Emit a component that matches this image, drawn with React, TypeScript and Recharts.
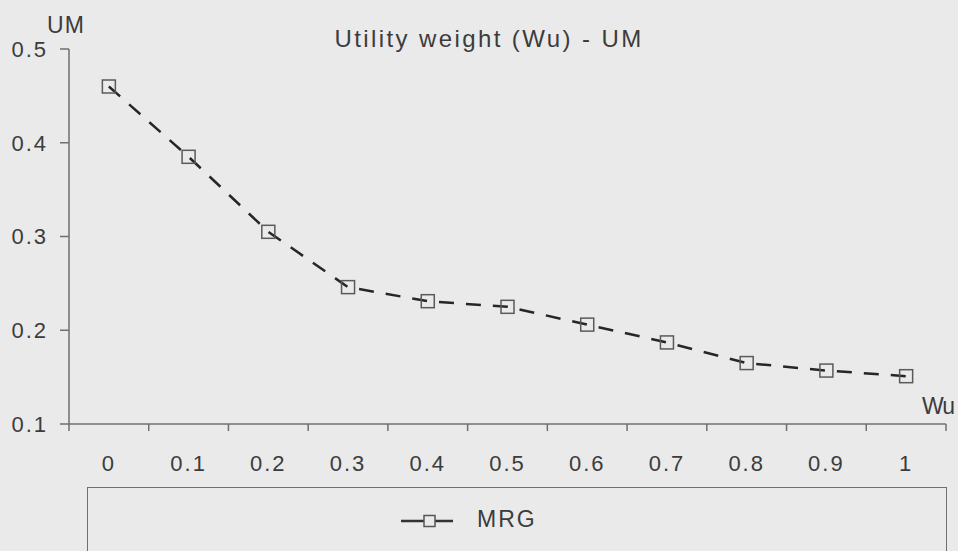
import { LineChart, Line, XAxis, YAxis, Legend } from 'recharts';

// Utility weight Wu vs UM, MRG series
const wuValues = [0, 0.1, 0.2, 0.3, 0.4, 0.5, 0.6, 0.7, 0.8, 0.9, 1];
const mrgValues = [0.46, 0.385, 0.305, 0.246, 0.231, 0.225, 0.206, 0.187, 0.165, 0.157, 0.151];
const yTicks = [0.1, 0.2, 0.3, 0.4, 0.5];

const data = wuValues.map((wu, i) => ({ wu, mrg: mrgValues[i] }));

const W = 958;
const H = 551;
const MARGIN = { top: 49, right: 12, bottom: 97, left: 0 };
const Y_AXIS_W = 69;
const X_AXIS_H = 30;
const PLOT_W = W - MARGIN.left - MARGIN.right - Y_AXIS_W;
const PLOT_BOTTOM = H - MARGIN.bottom - X_AXIS_H;
const STEP = PLOT_W / wuValues.length;

const BG = '#eaeaea';
const AXIS = '#6f6f6f';
const TEXT = '#3c3c3c';
const FONT = '"Liberation Sans", Arial, sans-serif';

// category-style ticks: marks between slots, labels centred in each slot
const XTick = (props: any) => {
  const { x, index, payload } = props;
  const last = index === wuValues.length - 1;
  return (
    <g>
      <line x1={x - STEP / 2} x2={x - STEP / 2} y1={PLOT_BOTTOM} y2={PLOT_BOTTOM + 7} stroke={AXIS} strokeWidth={1.5} />
      {last && (
        <line x1={x + STEP / 2} x2={x + STEP / 2} y1={PLOT_BOTTOM} y2={PLOT_BOTTOM + 7} stroke={AXIS} strokeWidth={1.5} />
      )}
      <text
        x={x}
        y={PLOT_BOTTOM + 39}
        textAnchor="middle"
        dominantBaseline="central"
        fill={TEXT}
        fontSize={22}
        letterSpacing={2}
        fontFamily={FONT}
      >
        {String(payload.value)}
      </text>
    </g>
  );
};

// axis titles: "UM" over the top of the y axis, "Wu" above the right end of the x axis
const YTitle = (props: any) => {
  const { x, y, width } = props.viewBox;
  return (
    <text x={x + width - 3} y={y - 24} textAnchor="middle" dominantBaseline="central" fill={TEXT} fontSize={23} letterSpacing={1} fontFamily={FONT}>
      UM
    </text>
  );
};

const XTitle = (props: any) => {
  const { x, y, width } = props.viewBox;
  return (
    <text x={x + width + 8} y={y - 18} textAnchor="end" dominantBaseline="central" fill={TEXT} fontSize={23} letterSpacing={-1} fontFamily={FONT}>
      Wu
    </text>
  );
};

const SquareDot = (props: any) => {
  const { cx, cy, index } = props;
  if (cx == null || cy == null) return null;
  return (
    <rect key={index} x={cx - 6.5} y={cy - 6.5} width={13} height={13} fill="none" stroke="#5a5a5a" strokeWidth={1.5} />
  );
};

const LegendBox = () => (
  <div
    style={{
      position: 'relative',
      width: 860,
      height: 80,
      border: `1.5px solid ${AXIS}`,
      boxSizing: 'border-box',
      fontFamily: FONT,
    }}
  >
    <svg width={56} height={20} style={{ position: 'absolute', left: 311, top: 23 }}>
      <line x1={2} x2={54} y1={10} y2={10} stroke="#333" strokeWidth={2.5} />
      <rect x={25} y={4.5} width={11} height={11} fill={BG} stroke="#555" strokeWidth={1.5} />
    </svg>
    <span
      style={{
        position: 'absolute',
        left: 389,
        top: 18,
        fontSize: 23,
        letterSpacing: 2,
        color: TEXT,
      }}
    >
      MRG
    </span>
  </div>
);

export default function App() {
  return (
    <div style={{ position: 'absolute', left: 0, top: 0, width: W, height: H, background: BG, overflow: 'hidden' }}>
      <LineChart width={W} height={H} data={data} margin={MARGIN}>
        <XAxis
          dataKey="wu"
          type="number"
          domain={[-0.05, 1.05]}
          ticks={wuValues}
          height={X_AXIS_H}
          tickLine={false}
          axisLine={{ stroke: AXIS, strokeWidth: 1.5 }}
          tick={<XTick />}
          interval={0}
          allowDataOverflow
          label={<XTitle />}
        />
        <YAxis
          type="number"
          domain={[0.1, 0.5]}
          ticks={yTicks}
          width={Y_AXIS_W}
          tickSize={9}
          tickMargin={12}
          tickLine={{ stroke: AXIS, strokeWidth: 1.5 }}
          axisLine={{ stroke: AXIS, strokeWidth: 1.5 }}
          tickFormatter={(v: number) => v.toFixed(1)}
          tick={{ fill: TEXT, fontSize: 22, fontFamily: FONT, letterSpacing: 2 }}
          interval={0}
          label={<YTitle />}
        />
        <Legend
          verticalAlign="middle"
          align="center"
          content={<LegendBox />}
          wrapperStyle={{ left: 87, top: 487, width: 862 }}
        />
        <Line
          dataKey="mrg"
          name="MRG"
          stroke="#262626"
          strokeWidth={2.5}
          strokeDasharray="15 12"
          dot={<SquareDot />}
          isAnimationActive={false}
        />
      </LineChart>
      <div
        style={{
          position: 'absolute',
          left: 0,
          width: 958,
          top: 25,
          textAlign: 'center',
          fontFamily: FONT,
          fontSize: 24,
          letterSpacing: 2.4,
          color: TEXT,
          paddingLeft: 20,
          boxSizing: 'border-box',
        }}
      >
        Utility weight (Wu) - UM
      </div>
    </div>
  );
}
